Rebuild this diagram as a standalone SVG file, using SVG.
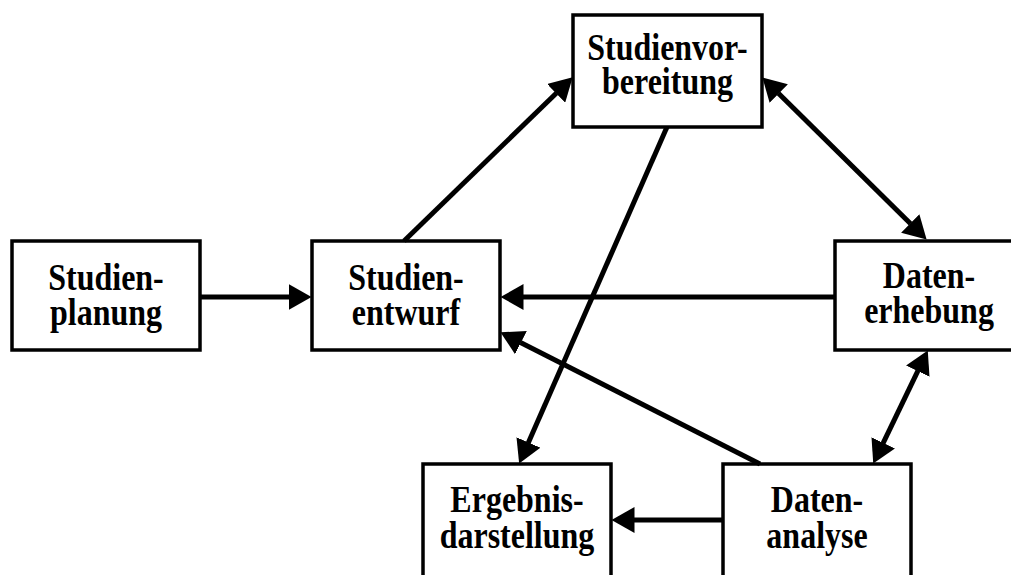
<svg xmlns="http://www.w3.org/2000/svg" width="1011" height="575" viewBox="0 0 1011 575">
  <style>
    .box { fill: #ffffff; stroke: #000000; stroke-width: 3.5; }
    .lbl { font-family: "Liberation Serif", "Times New Roman", serif; font-weight: bold; font-size: 32px; fill: #000000; text-anchor: middle; }
    .edge { fill: none; stroke: #000000; stroke-width: 5; }
    .one { marker-end: url(#head); }
    .two { marker-start: url(#head); marker-end: url(#head); }
  </style>
  <defs>
    <marker id="head" markerUnits="userSpaceOnUse" markerWidth="24" markerHeight="26" viewBox="0 0 24 26" refX="0.5" refY="13" orient="auto-start-reverse">
      <path d="M0,0 L23,13 L0,26 Z" fill="#000000"/>
    </marker>
  </defs>

  <rect x="0" y="0" width="1011" height="575" fill="#ffffff"/>

  <g id="studienplanung">
    <rect class="box" x="12" y="241" width="188" height="109"/>
    <text class="lbl" transform="matrix(1 0 0 1.18 106 290)">Studien-</text>
    <text class="lbl" transform="matrix(1 0 0 1.18 106 325)">planung</text>
  </g>

  <g id="studienentwurf">
    <rect class="box" x="312" y="241" width="188" height="109"/>
    <text class="lbl" transform="matrix(1 0 0 1.18 406 290)">Studien-</text>
    <text class="lbl" transform="matrix(1 0 0 1.18 406 325)">entwurf</text>
  </g>

  <g id="studienvorbereitung">
    <rect class="box" x="573" y="15" width="189" height="112"/>
    <text class="lbl" transform="matrix(1 0 0 1.18 667.5 60)">Studienvor-</text>
    <text class="lbl" transform="matrix(1 0 0 1.18 667.5 94)">bereitung</text>
  </g>

  <g id="datenerhebung">
    <rect class="box" x="835" y="241" width="188" height="109"/>
    <text class="lbl" transform="matrix(1 0 0 1.18 929 288)">Daten-</text>
    <text class="lbl" transform="matrix(1 0 0 1.18 929 323)">erhebung</text>
  </g>

  <g id="ergebnisdarstellung">
    <rect class="box" x="423" y="464" width="188" height="120"/>
    <text class="lbl" transform="matrix(1 0 0 1.18 517 512)">Ergebnis-</text>
    <text class="lbl" transform="matrix(1 0 0 1.18 517 548)">darstellung</text>
  </g>

  <g id="datenanalyse">
    <rect class="box" x="723" y="464" width="188" height="120"/>
    <text class="lbl" transform="matrix(1 0 0 1.18 817 512)">Daten-</text>
    <text class="lbl" transform="matrix(1 0 0 1.18 817 548)">analyse</text>
  </g>

  <g id="connectors">
    <!-- Studienplanung -> Studienentwurf -->
    <path class="edge one" d="M200,297 L289,297"/>
    <!-- Datenerhebung -> Studienentwurf -->
    <path class="edge one" d="M835,297 L523,297"/>
    <!-- Studienentwurf -> Studienvorbereitung -->
    <path class="edge one" d="M404,241 L556.5,93"/>
    <!-- Studienvorbereitung -> Ergebnisdarstellung -->
    <path class="edge one" d="M667,127 L528.2,442.9"/>
    <!-- Datenanalyse -> Studienentwurf -->
    <path class="edge one" d="M760,464 L520.5,342.4"/>
    <!-- Studienvorbereitung <-> Datenerhebung -->
    <path class="edge two" d="M778.4,93.2 L910.6,223.8"/>
    <!-- Datenerhebung <-> Datenanalyse -->
    <path class="edge two" d="M918,370.7 L883,443.3"/>
    <!-- Datenanalyse -> Ergebnisdarstellung -->
    <path class="edge one" d="M723,520 L634,520"/>
  </g>
</svg>
